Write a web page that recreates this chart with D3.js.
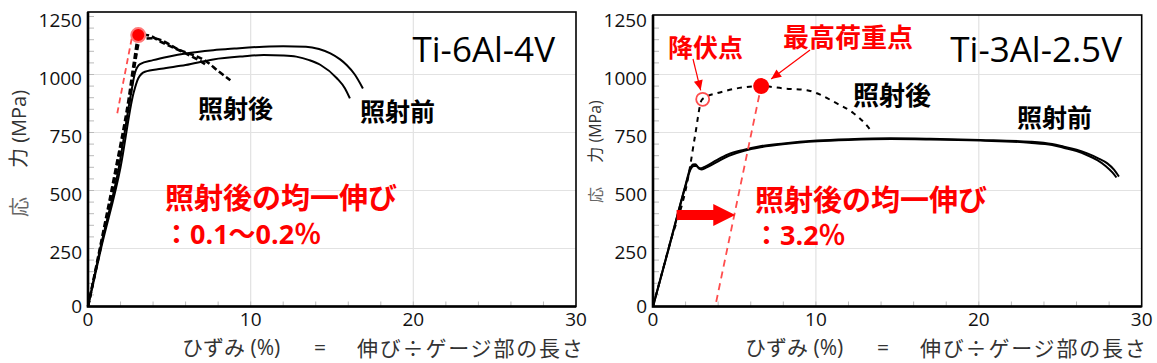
<!DOCTYPE html>
<meta charset="utf-8">
<style>
body { margin: 0; background: #fff; }
svg { display: block; }
</style>
<svg width="1157" height="363"></svg>
<script src="https://cdn.jsdelivr.net/npm/d3@7"></script>
<script>

// axis ticks
const xTicks = [0, 10, 20, 30];
const yTicks = [0, 250, 500, 750, 1000, 1250];

// Ti-6Al-4V  [strain %, stress MPa]
const ti64Before1 = [[0, 0], [0.75, 250], [1.9, 600], [2.6, 900], [2.9, 1010], [3.2, 1045], [4, 1062], [5, 1078], [6, 1091], [7.7, 1105], [9, 1112], [10.8, 1120], [12, 1122], [13.4, 1120], [14.2, 1110], [14.9, 1091], [15.5, 1065], [15.9, 1041], [16.4, 1000], [16.9, 940]];
const ti64Before2 = [[0, 0], [0.8, 250], [2.0, 600], [2.8, 920], [3.1, 985], [3.5, 1012], [4.5, 1025], [6, 1041], [7.7, 1065], [9.5, 1078], [10.8, 1084], [12, 1082], [12.8, 1077], [13.6, 1062], [14.3, 1041], [15.3, 984], [15.8, 940], [16.1, 897]];
const ti64After1 = [[0, 0], [0.75, 258], [1.7, 592], [2.5, 895], [2.85, 1065], [3.1, 1160], [3.6, 1170], [4.5, 1140], [6.0, 1091], [6.8, 1062], [7.3, 1040]];
const ti64After2 = [[0, 0], [0.8, 262], [1.8, 605], [2.6, 905], [2.95, 1075], [3.2, 1152], [3.98, 1156], [5.65, 1105], [7.3, 1055], [8.0, 1015], [8.75, 975]];
const ti64Max = [3.09, 1170];
const ti64Unload = [[1.8, 833], [2.7, 1160]];

// Ti-3Al-2.5V
const ti325Before1 = [[0, 0], [1.0, 262], [2.0, 525], [2.27, 592], [2.45, 612], [2.6, 613], [2.8, 599], [2.95, 596], [3.2, 603], [3.91, 631], [4.6, 655], [5.55, 675], [6.5, 690], [8.01, 703], [10.06, 715], [12, 721], [14.57, 725], [17, 723], [20.1, 718], [23.17, 710], [24.5, 700], [25.22, 689], [26.0, 676], [26.66, 660], [27.3, 640], [27.89, 617], [28.3, 590], [28.6, 560]];
const ti325Before2 = [[0, 0], [1.0, 258], [2.0, 520], [2.3, 590], [2.5, 606], [2.65, 606], [2.85, 593], [3.0, 591], [3.3, 600], [4.0, 626], [4.7, 650], [5.6, 671], [6.6, 686], [8.1, 700], [10.1, 712], [12, 718], [14.6, 722], [17, 720], [20.1, 715], [23.1, 706], [24.5, 696], [25.2, 684], [26.0, 670], [26.66, 652], [27.3, 630], [27.8, 605], [28.2, 578], [28.45, 556]];
const ti325After = [[0, 0], [1.0, 262], [2.17, 560], [2.58, 735], [2.99, 890], [3.3, 905], [3.91, 919], [5.14, 940], [6.64, 950], [8.01, 940], [9.45, 932], [10.3, 912], [11.08, 883], [12.31, 833], [13.0, 790], [13.44, 753]];
const ti325Yield = [3.05, 893];
const ti325Max = [6.64, 950];
const ti325Unload = [[3.88, 20], [6.64, 950]];
const ti325Shift = [[1.45, 394], [5.05, 394]];

const latin = "'Open Sans', 'Noto Sans CJK JP', sans-serif";
const jp = "'Noto Sans CJK JP', sans-serif";
const red = '#ff0000';

const svg = d3.select('svg');

function arrowHead(g, x1, y1, x2, y2, size, color) {
	const a = Math.atan2(y2 - y1, x2 - x1);
	const p = [
		[x2, y2],
		[x2 - size * Math.cos(a) + size * 0.45 * Math.sin(a), y2 - size * Math.sin(a) - size * 0.45 * Math.cos(a)],
		[x2 - size * Math.cos(a) - size * 0.45 * Math.sin(a), y2 - size * Math.sin(a) + size * 0.45 * Math.cos(a)]
	];
	g.append('polygon').attr('points', p.map((d) => d.join(',')).join(' ')).attr('fill', color);
}

function drawPanel(p) {
	const g = svg.append('g');
	const x = d3.scaleLinear().domain([0, 30]).range([p.left, p.right]);
	const y = d3.scaleLinear().domain([0, 1250]).range([306.5, 16.5]);
	const line = d3.line().x((d) => x(d[0])).y((d) => y(d[1])).curve(d3.curveMonotoneX);

	// grid
	g.selectAll('.gx').data(xTicks.filter((d) => d > 0 && d < 30)).enter().append('line')
		.attr('x1', (d) => x(d)).attr('x2', (d) => x(d)).attr('y1', p.top).attr('y2', y(0))
		.attr('stroke', '#e2e2e2').attr('stroke-width', 1.2);
	g.selectAll('.gy').data(yTicks.filter((d) => d > 0 && d < 1250)).enter().append('line')
		.attr('x1', p.left).attr('x2', p.right).attr('y1', (d) => y(d)).attr('y2', (d) => y(d))
		.attr('stroke', '#e2e2e2').attr('stroke-width', 1.2);

	// minor ticks
	g.selectAll('.mx').data(d3.range(2, 30, 2)).enter().append('line')
		.attr('x1', (d) => x(d)).attr('x2', (d) => x(d)).attr('y1', y(0)).attr('y2', y(0) - 5)
		.attr('stroke', '#bbb');
	g.selectAll('.my').data(d3.range(50, 1260, 50).filter((d) => y(d) > p.top + 2)).enter().append('line')
		.attr('x1', p.left).attr('x2', p.left + 6).attr('y1', (d) => y(d)).attr('y2', (d) => y(d))
		.attr('stroke', '#bbb');

	p.draw(g, x, y, line);

	// frame
	g.append('rect')
		.attr('x', p.left).attr('y', p.top).attr('width', p.right - p.left).attr('height', y(0) - p.top)
		.attr('fill', 'none').attr('stroke', '#000').attr('stroke-width', 1.6);
	g.append('path')
		.attr('d', `M${p.left},${p.top}V${y(0)}H${p.right}`)
		.attr('fill', 'none').attr('stroke', '#000').attr('stroke-width', 2.6);

	// tick labels
	const ax = g.append('g').attr('font-family', latin).attr('font-size', 19).attr('fill', '#111');
	ax.selectAll('.ty').data(yTicks).enter().append('text')
		.attr('x', p.left - 6).attr('y', (d) => y(d) + (d === 0 ? -1 : 3))
		.attr('text-anchor', 'end').attr('dominant-baseline', 'central')
		.text((d) => d);
	ax.selectAll('.tx').data(xTicks).enter().append('text')
		.attr('x', (d) => x(d)).attr('y', 319)
		.attr('text-anchor', 'middle').attr('dominant-baseline', 'central')
		.text((d) => d);

	// axis titles
	const yl = g.append('g').attr('fill', '#333');
	yl.append('text')
		.attr('transform', `translate(${p.ylx},${p.yl1}) rotate(-90)`)
		.attr('text-anchor', 'middle').attr('dominant-baseline', 'central')
		.attr('font-family', jp).attr('font-size', p.ylSize).attr('fill', '#666')
		.text('応');
	yl.append('text')
		.attr('transform', `translate(${p.ylx},${p.yl2}) rotate(-90)`)
		.attr('text-anchor', 'middle').attr('dominant-baseline', 'central')
		.attr('font-family', latin).attr('font-size', p.ylSize)
		.text('力 (MPa)');

	const xl = g.append('g').attr('font-family', latin).attr('font-size', 21).attr('fill', '#333')
		.attr('dominant-baseline', 'central');
	xl.append('text').attr('x', p.xl).attr('y', 347).text('ひずみ (%)');
	xl.append('text').attr('x', p.xl + 138).attr('y', 347).attr('text-anchor', 'middle').text('=');
	xl.append('text').attr('x', p.xl + 175).attr('y', 347).attr('font-family', jp)
		.attr('letter-spacing', 1.8).text('伸び÷ゲージ部の長さ');

	// title
	g.append('text')
		.attr('x', p.titleX).attr('y', 62).attr('text-anchor', 'end')
		.attr('font-family', latin).attr('font-size', 35).attr('fill', '#000')
		.text(p.title);
}

function label(g, tx, ty, size, color, str) {
	return g.append('text')
		.attr('x', tx).attr('y', ty).attr('dominant-baseline', 'central')
		.attr('font-family', latin).attr('font-weight', 'bold')
		.attr('font-size', size).attr('fill', color)
		.text(str);
}

drawPanel({
	left: 88, right: 576, top: 12, title: 'Ti-6Al-4V', titleX: 555,
	ylx: 18, yl1: 207, yl2: 129, ylSize: 20, xl: 182,
	draw: (g, x, y, line) => {
		[ti64Before1, ti64Before2].forEach((d) => {
			g.append('path').attr('d', line(d)).attr('fill', 'none')
				.attr('stroke', '#000').attr('stroke-width', 2);
		});
		[ti64After1, ti64After2].forEach((d) => {
			g.append('path').attr('d', line(d)).attr('fill', 'none')
				.attr('stroke', '#000').attr('stroke-width', 2.6).attr('stroke-dasharray', '6 3');
		});
		g.append('line')
			.attr('x1', x(ti64Unload[0][0])).attr('y1', y(ti64Unload[0][1]))
			.attr('x2', x(ti64Unload[1][0])).attr('y2', y(ti64Unload[1][1]))
			.attr('stroke', '#ff4d4d').attr('stroke-width', 1.8).attr('stroke-dasharray', '6 4');
		g.append('circle').attr('cx', x(ti64Max[0])).attr('cy', y(ti64Max[1])).attr('r', 7)
			.attr('fill', red).attr('stroke', '#ff7a7a').attr('stroke-width', 2);

		label(g, 198, 108, 25, '#000', '照射後');
		label(g, 360, 111, 25, '#000', '照射前');
		label(g, 165, 197, 29, red, '照射後の均一伸び');
		label(g, 163, 233, 27, red, '：0.1～0.2％');
	}
});

drawPanel({
	left: 653, right: 1141.7, top: 15, title: 'Ti-3Al-2.5V', titleX: 1122,
	ylx: 595, yl1: 195, yl2: 131.5, ylSize: 16, xl: 745,
	draw: (g, x, y, line) => {
		[ti325Before1, ti325Before2].forEach((d) => {
			g.append('path').attr('d', line(d)).attr('fill', 'none')
				.attr('stroke', '#000').attr('stroke-width', 2);
		});
		g.append('path').attr('d', line(ti325After)).attr('fill', 'none')
			.attr('stroke', '#000').attr('stroke-width', 2).attr('stroke-dasharray', '5 5');
		g.append('line')
			.attr('x1', x(ti325Unload[0][0])).attr('y1', y(ti325Unload[0][1]))
			.attr('x2', x(ti325Unload[1][0])).attr('y2', y(ti325Unload[1][1]))
			.attr('stroke', '#ff4d4d').attr('stroke-width', 1.8).attr('stroke-dasharray', '7 5');
		g.append('circle').attr('cx', x(ti325Yield[0])).attr('cy', y(ti325Yield[1])).attr('r', 6.5)
			.attr('fill', 'none').attr('stroke', '#ff4d4d').attr('stroke-width', 1.8);
		g.append('circle').attr('cx', x(ti325Max[0])).attr('cy', y(ti325Max[1])).attr('r', 8)
			.attr('fill', red);

		// thick shift arrow
		const ax1 = x(ti325Shift[0][0]), ax2 = x(ti325Shift[1][0]), ay = y(ti325Shift[0][1]);
		g.append('polygon')
			.attr('points', [[ax1, ay - 5], [ax2 - 22, ay - 5], [ax2 - 22, ay - 11], [ax2, ay],
				[ax2 - 22, ay + 11], [ax2 - 22, ay + 5], [ax1, ay + 5]].map((d) => d.join(',')).join(' '))
			.attr('fill', red);

		// pointer arrows
		const y1x = x(ti325Yield[0]), y1y = y(ti325Yield[1]);
		g.append('line').attr('x1', 693).attr('y1', 59).attr('x2', y1x - 2).attr('y2', y1y - 9)
			.attr('stroke', red).attr('stroke-width', 1.2);
		arrowHead(g, 693, 59, y1x - 2, y1y - 9, 10, red);
		const mx = x(ti325Max[0]), my = y(ti325Max[1]);
		g.append('line').attr('x1', 810).attr('y1', 50).attr('x2', mx + 10).attr('y2', my - 7)
			.attr('stroke', red).attr('stroke-width', 1.2);
		arrowHead(g, 810, 50, mx + 10, my - 7, 10, red);

		label(g, 668, 47, 25, red, '降伏点');
		label(g, 783, 37, 26, red, '最高荷重点');
		label(g, 853, 95, 26, '#000', '照射後');
		label(g, 1017, 117, 25, '#000', '照射前');
		label(g, 755, 199, 29, red, '照射後の均一伸び');
		label(g, 753, 234, 27, red, '：3.2％');
	}
});

</script>
